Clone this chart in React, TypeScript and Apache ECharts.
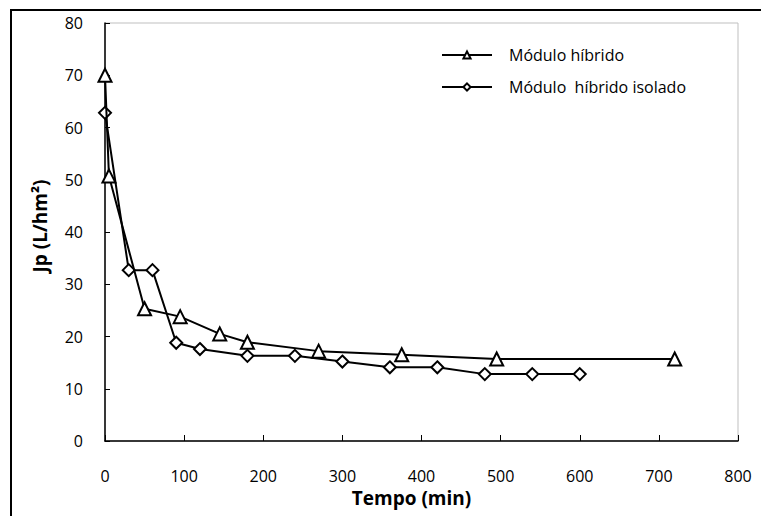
import React, { useEffect, useRef } from "react";
import * as echarts from "echarts";

const hybridTime = [0, 5, 50, 95, 145, 180, 270, 375, 495, 720];
const hybridFlux = [70, 50.7, 25.3, 23.8, 20.5, 18.9, 17.2, 16.5, 15.7, 15.7];
const isolatedTime = [0, 30, 60, 90, 120, 180, 240, 300, 360, 420, 480, 540, 600];
const isolatedFlux = [62.8, 32.7, 32.7, 18.8, 17.6, 16.3, 16.3, 15.2, 14.1, 14.1, 12.8, 12.8, 12.8];
const seriesNames = ["Módulo híbrido", "Módulo  híbrido isolado"];

const FONT = "'Open Sans', sans-serif";

export default function App() {
  const ref = useRef<HTMLDivElement>(null);
  useEffect(() => {
    document.body.style.margin = "0";
    const chart = echarts.init(ref.current!, null, { renderer: "svg" });
    const pts = (xs: number[], ys: number[]) => xs.map((x, i) => [x, ys[i]]);
    chart.setOption({
      animation: false,
      backgroundColor: "#ffffff",
      graphic: [
        {
          type: "rect",
          shape: { x: 11, y: 10, width: 800, height: 600 },
          style: { fill: "none", stroke: "#000", lineWidth: 2 },
          z: 0,
        },
      ],
      grid: {
        left: 105,
        top: 23,
        right: 761 - 738,
        bottom: 516 - 441,
        show: true,
        borderColor: "#bfbfbf",
        borderWidth: 1,
      },
      legend: {
        orient: "vertical",
        left: 436,
        top: 42,
        itemWidth: 50,
        itemHeight: 9,
        itemGap: 16,
        textStyle: { fontFamily: FONT, fontSize: 16, color: "#000", padding: [0, 0, 0, 12] },
        data: seriesNames,
      },
      xAxis: {
        type: "value",
        min: 0,
        max: 800,
        interval: 100,
        name: "Tempo (min)",
        nameLocation: "middle",
        nameGap: 43,
        nameTextStyle: {
          fontFamily: FONT,
          fontSize: 19,
          fontWeight: "bold",
          color: "#000",
          padding: [0, 20, 0, 0],
        },
        axisLine: { show: true, lineStyle: { color: "#000", width: 1.5 } },
        axisTick: { show: true, inside: true, length: 6, lineStyle: { color: "#000" } },
        axisLabel: { fontFamily: FONT, fontSize: 16, color: "#000", margin: 27 },
        splitLine: { show: false },
      },
      yAxis: {
        type: "value",
        min: 0,
        max: 80,
        interval: 10,
        name: "Jp (L/hm²)",
        nameLocation: "middle",
        nameGap: 56,
        nameTextStyle: {
          fontFamily: FONT,
          fontSize: 19,
          fontWeight: "bold",
          color: "#000",
          padding: [0, 0, 0, 12],
        },
        axisLine: { show: true, lineStyle: { color: "#000", width: 1.5 } },
        axisTick: { show: true, inside: true, length: 5, lineStyle: { color: "#000" } },
        axisLabel: { fontFamily: FONT, fontSize: 16, color: "#000", margin: 22 },
        splitLine: { show: false },
      },
      series: [
        {
          name: seriesNames[0],
          type: "line",
          data: pts(hybridTime, hybridFlux),
          symbol: "triangle",
          symbolSize: 13,
          lineStyle: { color: "#000", width: 2 },
          itemStyle: { color: "#fff", borderColor: "#000", borderWidth: 2 },
          z: 3,
        },
        {
          name: seriesNames[1],
          type: "line",
          data: pts(isolatedTime, isolatedFlux),
          symbol: "diamond",
          symbolSize: 12,
          lineStyle: { color: "#000", width: 2 },
          itemStyle: { color: "#fff", borderColor: "#000", borderWidth: 2 },
          z: 2,
        },
      ],
    });
    return () => chart.dispose();
  }, []);
  return <div ref={ref} style={{ width: 761, height: 516 }} />;
}
